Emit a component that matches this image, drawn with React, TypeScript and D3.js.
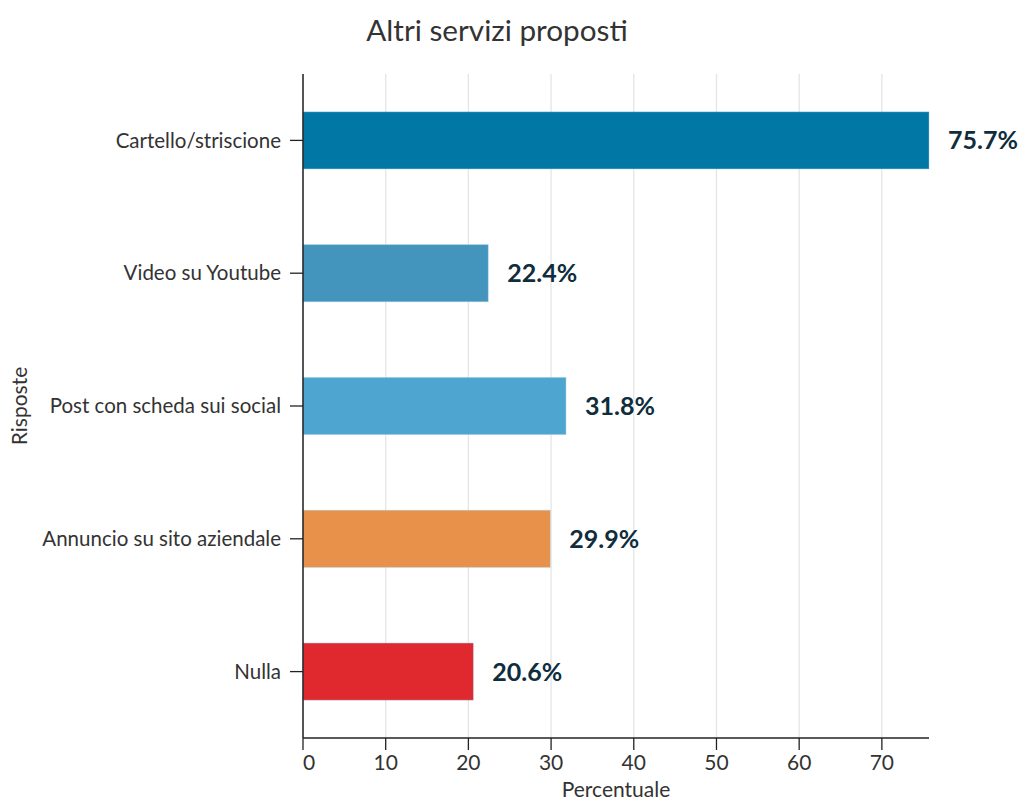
import React from "react";
import * as d3 from "d3";

const categories = [
  "Cartello/striscione",
  "Video su Youtube",
  "Post con scheda sui social",
  "Annuncio su sito aziendale",
  "Nulla",
];
const values = [75.7, 22.4, 31.8, 29.9, 20.6];
const colors = ["#0077a5", "#4395bd", "#4da5d0", "#e8914b", "#e0292f"];
const xTicks = [0, 10, 20, 30, 40, 50, 60, 70];

const W = 1021;
const H = 800;
const left = 303;
const right = 929;
const top = 74;
const bottom = 738;
const font = "Lato, 'Noto Sans', sans-serif";

export default function App() {
  const x = d3.scaleLinear().domain([0, 75.7]).range([left, right]);
  const y = d3.scaleBand<string>().domain(categories).range([top, bottom]).padding(0);
  const barH = y.bandwidth() * 0.43;

  return (
    <svg width={W} height={H} style={{ position: "absolute", left: 0, top: 0 }}>
      <rect width={W} height={H} fill="#fff" />
      <text x={497} y={41} textAnchor="middle" fontFamily={font} fontSize={29.7} fill="#333">
        Altri servizi proposti
      </text>
      {xTicks.map((t) => (
        <line key={"g" + t} x1={x(t)} x2={x(t)} y1={top} y2={bottom} stroke="#e5e5e5" strokeWidth={1.3} />
      ))}
      {categories.map((c, i) => {
        const cy = (y(c) as number) + y.bandwidth() / 2;
        return (
          <g key={c}>
            <rect
              x={x(0)}
              y={cy - barH / 2}
              width={x(values[i]) - x(0)}
              height={barH}
              fill={colors[i]}
              stroke="#9fd0e8"
              strokeOpacity={0.5}
              strokeWidth={0.8}
            />
            <text
              x={x(values[i]) + 19}
              y={cy}
              dy="0.36em"
              fontFamily={font}
              fontWeight={700}
              fontSize={25}
              fill="#0f2d3c"
            >
              {values[i].toFixed(1) + "%"}
            </text>
            <line x1={left - 13} x2={left} y1={cy} y2={cy} stroke="#222" strokeWidth={1.3} />
            <text x={left - 22} y={cy} dy="0.35em" textAnchor="end" fontFamily={font} fontSize={20.5} fill="#333">
              {c}
            </text>
          </g>
        );
      })}
      <line x1={left} x2={left} y1={top} y2={bottom} stroke="#222" strokeWidth={1.5} />
      <line x1={left} x2={right} y1={bottom} y2={bottom} stroke="#222" strokeWidth={1.5} />
      {xTicks.map((t) => (
        <g key={"t" + t}>
          <line x1={x(t)} x2={x(t)} y1={bottom} y2={bottom + 12} stroke="#222" strokeWidth={1.3} />
          <text x={x(t) + (t === 0 ? 6 : 0)} y={bottom + 32} textAnchor="middle" fontFamily={font} fontSize={21} fill="#333">
            {t}
          </text>
        </g>
      ))}
      <text x={616} y={797} textAnchor="middle" fontFamily={font} fontSize={21} fill="#333">
        Percentuale
      </text>
      <text
        transform={`translate(27,406) rotate(-90)`}
        textAnchor="middle"
        fontFamily={font}
        fontSize={21}
        fill="#333"
      >
        Risposte
      </text>
    </svg>
  );
}
